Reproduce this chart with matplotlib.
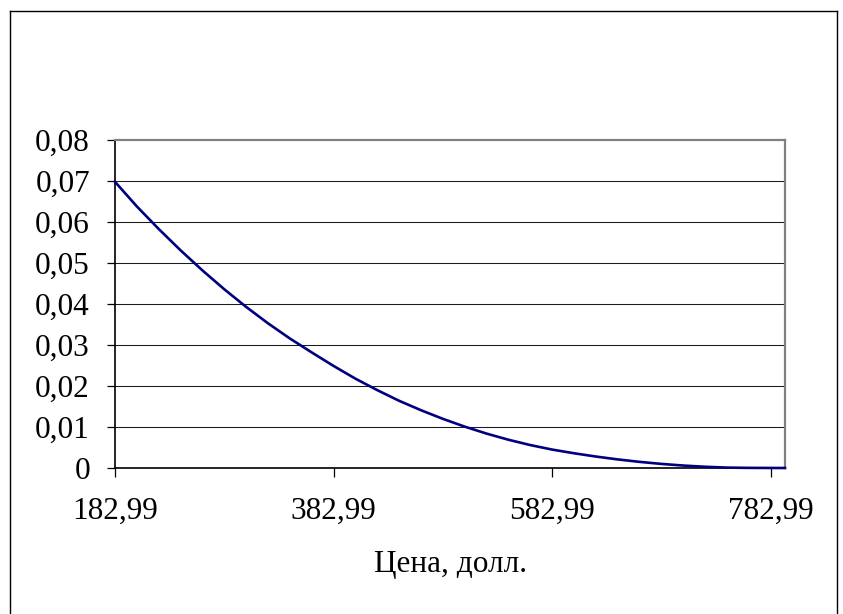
import matplotlib
matplotlib.use("Agg")
import matplotlib.pyplot as plt
from matplotlib.lines import Line2D

# Price grid (dollars) and probability values
price = [182.99, 202.99, 222.99, 242.99, 262.99, 282.99, 302.99, 322.99, 342.99,
         362.99, 382.99, 402.99, 422.99, 442.99, 462.99, 482.99, 502.99, 522.99,
         542.99, 562.99, 582.99, 602.99, 622.99, 642.99, 662.99, 682.99, 702.99,
         722.99, 742.99, 762.99, 782.99, 796.25]
prob = [0.0698, 0.0638, 0.0583, 0.0531, 0.0482, 0.0436, 0.0393, 0.0353, 0.0316,
        0.0282, 0.0249, 0.0218, 0.0190, 0.0164, 0.0141, 0.0120, 0.0101, 0.0084,
        0.0069, 0.0056, 0.0045, 0.0036, 0.0028, 0.0021, 0.0015, 0.0010, 0.0006,
        0.0003, 0.0001, 0.00003, 0.00001, 0.0]

x_ticks = [182.99, 382.99, 582.99, 782.99]
x_tick_labels = ["182,99", "382,99", "582,99", "782,99"]
y_ticks = [0, 0.01, 0.02, 0.03, 0.04, 0.05, 0.06, 0.07, 0.08]
y_tick_labels = ["0", "0,01", "0,02", "0,03", "0,04", "0,05", "0,06", "0,07", "0,08"]
x_label = "Цена, долл."

W, H = 843, 614
fig = plt.figure(figsize=(W / 100, H / 100), dpi=100)
fig.patch.set_facecolor("white")

font = ["Liberation Serif", "DejaVu Serif"]
fs = 22.5

left, right, top, bottom = 115, 785, 140, 468
ax = fig.add_axes([left / W, 1 - bottom / H, (right - left) / W, (bottom - top) / H])

ax.plot(price, prob, color="#000080", lw=1.9, solid_joinstyle="round",
        clip_on=False, zorder=5)

ax.set_xlim(182.99, 796.25)
ax.set_ylim(0, 0.08)

ax.set_yticks(y_ticks)
ax.set_yticklabels(y_tick_labels, family=font, fontsize=fs)
ax.set_xticks(x_ticks)
ax.set_xticklabels(x_tick_labels, family=font, fontsize=fs)

ax.tick_params(axis="y", direction="out", length=6, width=0.9, color="black", pad=12)
ax.tick_params(axis="x", direction="out", length=6.5, width=0.9, color="black", pad=14)

for v in y_ticks[1:-1]:
    ax.axhline(v, color="#1a1a1a", lw=0.75, zorder=1)

ax.spines["left"].set_color("black")
ax.spines["left"].set_linewidth(1.2)
ax.spines["bottom"].set_color("black")
ax.spines["bottom"].set_linewidth(1.2)
ax.spines["top"].set_color("#808080")
ax.spines["top"].set_linewidth(1.6)
ax.spines["right"].set_color("#808080")
ax.spines["right"].set_linewidth(1.6)

ax.set_xlabel(x_label, family=font, fontsize=fs, labelpad=18)

# Outer chart frame (open at the bottom)
fx0, fx1, fy = 10 / W, 836.5 / W, 1 - 11 / H
for xs, ys in [([fx0, fx0], [0, fy]), ([fx0, fx1], [fy, fy]), ([fx1, fx1], [fy, 0])]:
    fig.add_artist(Line2D(xs, ys, transform=fig.transFigure, color="black", lw=1.0))

fig.savefig("out.png", dpi=100, facecolor="white")
